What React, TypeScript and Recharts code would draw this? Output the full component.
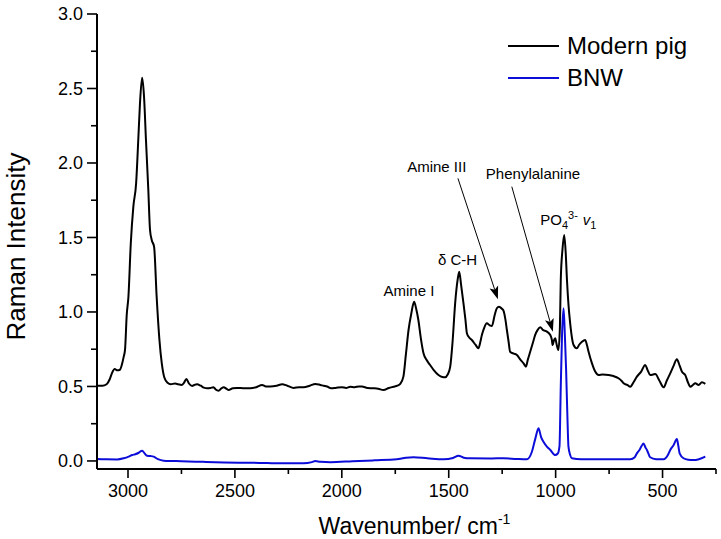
import { Line, LineChart, ReferenceDot, ReferenceLine, XAxis, YAxis } from "recharts";

const FONT = '"Liberation Sans", Arial, sans-serif';
const WIDTH = 721;
const HEIGHT = 539;

// Modern pig spectrum
const pigWavenumber = [
  3143, 3120, 3100, 3085, 3075, 3062, 3050, 3038, 3028, 3020, 3014, 3006, 2998, 2987, 2975, 2962,
  2952, 2944, 2934, 2925, 2916, 2905, 2897, 2889, 2878, 2866, 2853, 2842, 2830, 2815, 2800, 2780,
  2765, 2750, 2738, 2727, 2715, 2700, 2690, 2677, 2660, 2645, 2630, 2615, 2600, 2590, 2576, 2565,
  2552, 2540, 2529, 2510, 2490, 2460, 2428, 2400, 2373, 2355, 2334, 2305, 2279, 2255, 2225, 2200,
  2178, 2150, 2124, 2100, 2085, 2069, 2050, 2030, 2000, 1980, 1961, 1940, 1920, 1906, 1880, 1852,
  1830, 1805, 1780, 1759, 1740, 1727, 1712, 1700, 1688, 1675, 1662, 1652, 1642, 1630, 1618, 1600,
  1587, 1570, 1548, 1530, 1517, 1505, 1493, 1482, 1470, 1458, 1451, 1442, 1431, 1422, 1415, 1405,
  1392, 1375, 1361, 1352, 1345, 1335, 1322, 1308, 1298, 1285, 1275, 1265, 1259, 1250, 1244, 1235,
  1228, 1220, 1213, 1195, 1181, 1165, 1150, 1139, 1130, 1119, 1105, 1096, 1084, 1072, 1060, 1041,
  1025, 1018, 1014, 1008, 1002, 995, 987, 980, 976, 968, 960, 953, 947, 940, 932, 916,
  901, 890, 877, 862, 854, 846, 830, 815, 799, 780, 752, 730, 706, 690, 682, 665,
  651, 635, 620, 600, 581, 570, 558, 545, 534, 515, 495, 480, 464, 448, 433, 420,
  409, 400, 394, 382, 370, 358, 347, 331, 316, 300,
];
const pigIntensity = [
  0.505, 0.505, 0.515, 0.55, 0.59, 0.617, 0.608, 0.612, 0.65, 0.7, 0.745, 0.98, 1.102, 1.46, 1.707, 1.864,
  2.154, 2.4, 2.572, 2.445, 2.154, 1.819, 1.55, 1.483, 1.438, 1.102, 0.812, 0.655, 0.56, 0.525, 0.515, 0.52,
  0.515, 0.51, 0.525, 0.55, 0.52, 0.503, 0.51, 0.515, 0.505, 0.492, 0.488, 0.49, 0.495, 0.48, 0.472, 0.485,
  0.495, 0.485, 0.476, 0.488, 0.49, 0.488, 0.488, 0.495, 0.51, 0.5, 0.5, 0.505, 0.515, 0.505, 0.49, 0.495,
  0.495, 0.505, 0.517, 0.51, 0.505, 0.5, 0.488, 0.49, 0.495, 0.49, 0.498, 0.495, 0.5, 0.5, 0.49, 0.488,
  0.485, 0.476, 0.49, 0.498, 0.505, 0.517, 0.566, 0.72, 0.879, 0.99, 1.069, 1.02, 0.946, 0.82, 0.723, 0.67,
  0.644, 0.61, 0.577, 0.563, 0.561, 0.58, 0.633, 0.8, 1.058, 1.22, 1.27, 1.18, 1.058, 0.95, 0.857, 0.83,
  0.812, 0.78, 0.756, 0.8, 0.845, 0.89, 0.924, 0.91, 0.906, 0.98, 1.025, 1.035, 1.031, 1.02, 1.009, 0.95,
  0.879, 0.8, 0.733, 0.72, 0.711, 0.68, 0.655, 0.633, 0.68, 0.733, 0.8, 0.845, 0.88, 0.897, 0.88, 0.868,
  0.845, 0.815, 0.778, 0.81, 0.823, 0.78, 0.745, 0.9, 1.215, 1.42, 1.517, 1.4, 1.215, 1.05, 0.924, 0.778,
  0.756, 0.78, 0.8, 0.812, 0.78, 0.733, 0.655, 0.6, 0.577, 0.58, 0.577, 0.57, 0.555, 0.535, 0.521, 0.51,
  0.498, 0.53, 0.566, 0.6, 0.644, 0.61, 0.577, 0.58, 0.584, 0.54, 0.494, 0.54, 0.588, 0.64, 0.682, 0.64,
  0.599, 0.585, 0.577, 0.53, 0.498, 0.51, 0.521, 0.51, 0.528, 0.517,
];

// BNW spectrum
const bnwWavenumber = [
  3143, 3100, 3051, 3020, 2997, 2980, 2966, 2950, 2934, 2922, 2911, 2895, 2880, 2860, 2833, 2750,
  2650, 2550, 2443, 2350, 2287, 2180, 2140, 2124, 2100, 2053, 1950, 1850, 1743, 1700, 1665, 1600,
  1524, 1480, 1454, 1430, 1400, 1300, 1244, 1180, 1135, 1111, 1095, 1080, 1068, 1057, 1040, 1025,
  1002, 990, 982, 976, 970, 963, 957, 951, 945, 940, 932, 924, 880, 760, 651, 630,
  620, 608, 598, 589, 580, 573, 558, 530, 495, 475, 464, 448, 433, 426, 420, 402,
  380, 355, 330, 300,
];
const bnwIntensity = [
  0.013, 0.011, 0.01, 0.018, 0.029, 0.04, 0.045, 0.055, 0.069, 0.05, 0.035, 0.033, 0.029, 0.012, 0.002, -0.002,
  -0.006, -0.01, -0.012, -0.014, -0.016, -0.016, -0.008, 0, -0.006, -0.008, -0.002, 0.004, 0.011, 0.022, 0.025, 0.018,
  0.011, 0.02, 0.035, 0.022, 0.018, 0.017, 0.018, 0.013, 0.011, 0.062, 0.15, 0.219, 0.16, 0.129, 0.095, 0.074,
  0.04, 0.05, 0.1, 0.498, 0.85, 1.025, 0.85, 0.61, 0.3, 0.096, 0.04, 0.018, 0.012, 0.011, 0.011, 0.025,
  0.051, 0.074, 0.1, 0.118, 0.09, 0.074, 0.025, 0.012, 0.011, 0.04, 0.074, 0.107, 0.147, 0.1, 0.051, 0.018,
  0.008, 0.006, 0.012, 0.029,
];

const seriesNames = ["Modern pig", "BNW"];
const seriesColors = ["#000000", "#0d0dd9"];

const xTicks = [3000, 2750, 2500, 2250, 2000, 1750, 1500, 1250, 1000, 750, 500, 250];
const yTicks = [0, 0.25, 0.5, 0.75, 1, 1.25, 1.5, 1.75, 2, 2.25, 2.5, 2.75, 3];

const peakLabels = [
  { text: "Amine I", wavenumber: 1686, intensity: 1.143 },
  { text: "δ C-H", wavenumber: 1459, intensity: 1.349 },
  { text: "Amine III", wavenumber: 1556, intensity: 1.973 },
  { text: "Phenylalanine", wavenumber: 1106, intensity: 1.926 },
];

const arrows = [
  { from: { x: 1457, y: 1.897 }, to: { x: 1270, y: 1.085 } },
  { from: { x: 1205, y: 1.841 }, to: { x: 1013, y: 0.868 } },
];

const pigData = pigWavenumber.map((w, i) => ({ w, v: pigIntensity[i] }));
const bnwData = bnwWavenumber.map((w, i) => ({ w, v: bnwIntensity[i] }));

// biome-ignore lint/suspicious/noExplicitAny: recharts tick props are runtime-shaped.
function XTick({ x, y, payload }: any) {
  const major = payload.value % 500 === 0;
  return (
    <g>
      <line x1={x} x2={x} y1={y} y2={y + (major ? 9 : 5)} stroke="#000" strokeWidth={1.6} />
      {major && (
        <text x={x} y={y + 28} textAnchor="middle" fontSize={18} fontFamily={FONT} fill="#000">
          {payload.value}
        </text>
      )}
    </g>
  );
}

// biome-ignore lint/suspicious/noExplicitAny: recharts tick props are runtime-shaped.
function YTick({ x, y, payload }: any) {
  const v = payload.value;
  const major = Math.abs(v * 2 - Math.round(v * 2)) < 1e-6;
  return (
    <g>
      <line x1={x} x2={x - (major ? 10 : 6)} y1={y} y2={y} stroke="#000" strokeWidth={1.6} />
      {major && (
        <text x={x - 14} y={y} dy="0.35em" textAnchor="end" fontSize={18} fontFamily={FONT} fill="#000">
          {v.toFixed(1)}
        </text>
      )}
    </g>
  );
}

// biome-ignore lint/suspicious/noExplicitAny: shape props are runtime-shaped.
function Arrow({ x1, y1, x2, y2 }: any) {
  const dx = x2 - x1;
  const dy = y2 - y1;
  const len = Math.sqrt(dx * dx + dy * dy);
  const ux = dx / len;
  const uy = dy / len;
  const bx = x2 - ux * 13;
  const by = y2 - uy * 13;
  const pts = `${x2},${y2} ${bx - uy * 4.5},${by + ux * 4.5} ${bx + ux * 3},${by + uy * 3} ${bx + uy * 4.5},${by - ux * 4.5}`;
  return (
    <g>
      <line x1={x1} y1={y1} x2={bx + ux * 3} y2={by + uy * 3} stroke="#000" strokeWidth={1} />
      <polygon points={pts} fill="#000" />
    </g>
  );
}

function LegendBox() {
  return (
    <div style={{ position: "absolute", top: 30, left: 508, fontFamily: FONT, fontSize: 24 }}>
      {seriesNames.map((name, i) => (
        <div key={name} style={{ display: "flex", alignItems: "center", height: 32 }}>
          <span style={{ width: 51, height: 2, background: seriesColors[i], display: "inline-block" }} />
          <span style={{ marginLeft: 8, lineHeight: "32px", color: "#000" }}>{name}</span>
        </div>
      ))}
    </div>
  );
}

export default function App() {
  return (
    <div
      style={{
        position: "fixed",
        top: 0,
        left: 0,
        width: WIDTH,
        height: HEIGHT,
        overflow: "hidden",
        background: "#fff",
      }}
    >
      <LineChart width={WIDTH} height={HEIGHT} margin={{ top: 14, right: 5, bottom: 0, left: 0 }}>
        <XAxis
          type="number"
          dataKey="w"
          domain={[250, 3145]}
          reversed
          ticks={xTicks}
          interval={0}
          allowDataOverflow
          height={70}
          tickSize={0}
          tickMargin={0}
          tickLine={false}
          tick={<XTick />}
          axisLine={{ stroke: "#000", strokeWidth: 2 }}
          label={{
            position: "insideBottom",
            content: ({ viewBox }: any) => (
              <text
                x={viewBox.x + viewBox.width / 2 + 8}
                y={HEIGHT - 5}
                textAnchor="middle"
                fontSize={23}
                fontFamily={FONT}
                fill="#000"
              >
                Wavenumber/ cm
                <tspan fontSize={14} dy={-10}>
                  -1
                </tspan>
              </text>
            ),
          }}
        />
        <YAxis
          type="number"
          domain={[-0.054, 3]}
          ticks={yTicks}
          interval={0}
          allowDataOverflow
          width={97}
          tickSize={0}
          tickMargin={0}
          tickLine={false}
          tick={<YTick />}
          axisLine={{ stroke: "#000", strokeWidth: 2 }}
          label={{
            position: "insideLeft",
            content: ({ viewBox }: any) => {
              const cx = 16;
              const cy = viewBox.y + viewBox.height / 2 + 5;
              return (
                <text
                  x={cx}
                  y={cy}
                  dy="0.35em"
                  textAnchor="middle"
                  transform={`rotate(-90 ${cx} ${cy})`}
                  fontSize={26}
                  fontFamily={FONT}
                  fill="#000"
                >
                  Raman Intensity
                </text>
              );
            },
          }}
        />
        <Line
          data={pigData}
          dataKey="v"
          name={seriesNames[0]}
          type="monotone"
          stroke={seriesColors[0]}
          strokeWidth={2}
          dot={false}
          isAnimationActive={false}
        />
        <Line
          data={bnwData}
          dataKey="v"
          name={seriesNames[1]}
          type="monotone"
          stroke={seriesColors[1]}
          strokeWidth={2}
          dot={false}
          isAnimationActive={false}
        />
        {arrows.map((a) => (
          <ReferenceLine key={a.from.x} segment={[a.from, a.to]} ifOverflow="visible" shape={<Arrow />} />
        ))}
        {peakLabels.map((p) => (
          <ReferenceDot
            key={p.text}
            x={p.wavenumber}
            y={p.intensity}
            r={0}
            ifOverflow="visible"
            shape={(props: any) => (
              <text
                x={props.cx}
                y={props.cy}
                dy="0.35em"
                textAnchor="middle"
                fontSize={15}
                fontFamily={FONT}
                fill="#000"
              >
                {p.text}
              </text>
            )}
          />
        ))}
        <ReferenceDot
          x={1072}
          y={1.617}
          r={0}
          ifOverflow="visible"
          shape={(props: any) => (
            <text x={props.cx} y={props.cy + 5} fontSize={15} fontFamily={FONT} fill="#000">
              PO
              <tspan fontSize={11} dy={4}>
                4
              </tspan>
              <tspan fontSize={11} dy={-10}>
                3-
              </tspan>
              <tspan fontSize={15} dy={6} dx={5} fontStyle="italic">
                v
              </tspan>
              <tspan fontSize={11} dy={4}>
                1
              </tspan>
            </text>
          )}
        />
      </LineChart>
      <LegendBox />
    </div>
  );
}
